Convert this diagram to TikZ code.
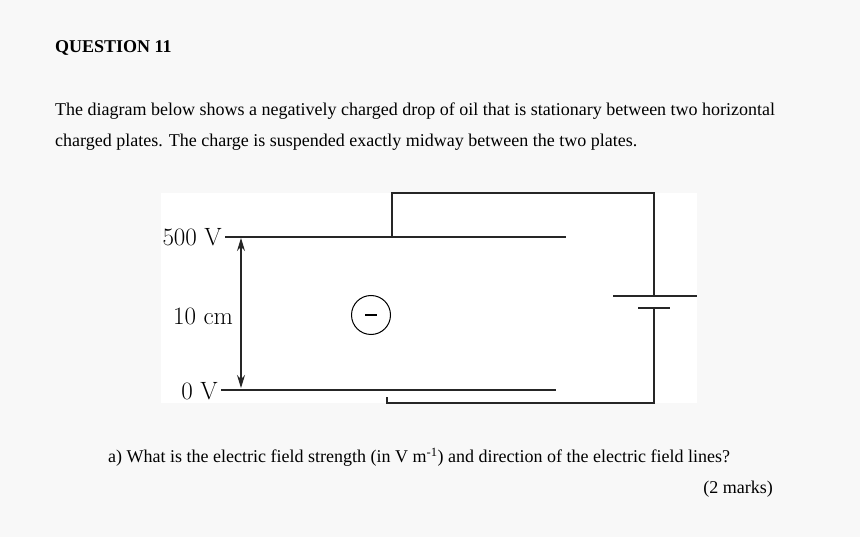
\documentclass[tikz,border=0pt]{standalone}
\usepackage{fontspec}
\newfontfamily\tnr{Liberation Serif}
\usetikzlibrary{arrows.meta}
\definecolor{bg}{HTML}{F8F8F8}
\begin{document}
\begin{tikzpicture}[x=1pt,y=-1pt,
  wire/.style={line width=1.2pt,black!85},
  txt/.style={font=\tnr\fontsize{18}{21}\selectfont,anchor=west,inner sep=0},
  lab/.style={font=\fontsize{25}{30}\selectfont,inner sep=0}]
\fill[bg] (0,0) rectangle (860,537);
\useasboundingbox (0,0) rectangle (860,537);
\fill[white] (161,193) rectangle (697,403);
\node[txt,font=\tnr\bfseries\fontsize{18}{21}\selectfont] (q) at (55,48) {QUESTION 11};
\node[txt] (t1) at (55,111) {The diagram below shows a negatively charged drop of oil that is stationary between two horizontal};
\node[txt] (t2) at (55,142) {charged plates. The charge is suspended exactly midway between the two plates.};
% plates
\coordinate (tpl) at (225,237); \coordinate (tpr) at (566,237);
\coordinate (bpl) at (221,390); \coordinate (bpr) at (556,390);
\draw[wire] (tpl) -- (tpr);
\draw[wire] (bpl) -- (bpr);
% circuit
\coordinate (tw) at (392,237);
\draw[wire] (tw) -- (392,193) -- (654,193) -- (654,296);
\draw[wire] (613,296) -- (697,296);
\draw[wire] (638,308) -- (670,308);
\draw[wire] (654,308) -- (654,403) -- (387,403) -- (387,397);
% arrow
\coordinate (at) at (241,238); \coordinate (ab) at (241,388);
\draw[wire,{Stealth[length=13pt,width=8pt]}-{Stealth[length=13pt,width=8pt]}] (at) -- (ab);
% charge
\node[draw,circle,minimum size=39pt,inner sep=0,line width=1pt] (drop) at (371,315) {};
\draw[line width=2.5pt] (365,315) -- (377,315);
\node[lab,anchor=east] (l500) at (222,237) {500 V};
\node[lab] (l10) at (203,316) {10 cm};
\node[lab,anchor=east] (l0) at (218,391) {0 V};
\node[txt] (qa) at (108,457) {a) What is the electric field strength (in V m\textsuperscript{-1}) and direction of the electric field lines?};
\node[txt,anchor=east] (mk) at (773,489) {(2 marks)};
\end{tikzpicture}
\end{document}
